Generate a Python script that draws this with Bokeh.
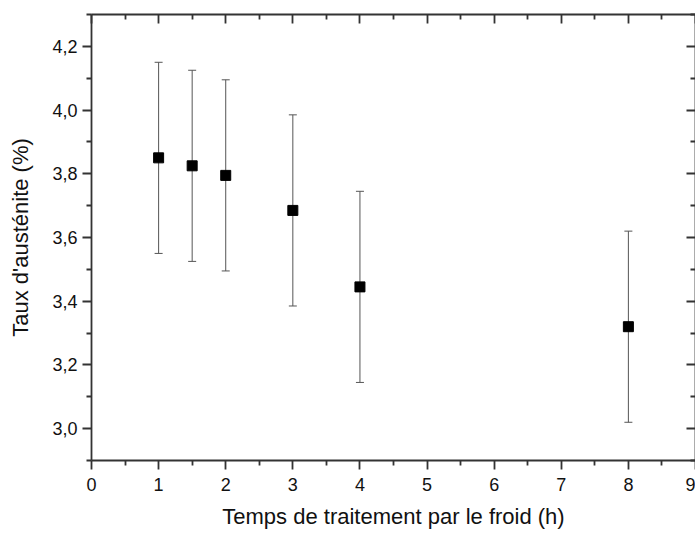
from bokeh.plotting import figure
from bokeh.models import ColumnDataSource, Whisker, LinearAxis, FixedTicker, Range1d, TeeHead
from bokeh.embed import file_html
from bokeh.resources import INLINE

# Data
time_h = [1, 1.5, 2, 3, 4, 8]
austenite = [3.85, 3.825, 3.795, 3.685, 3.445, 3.32]
error = [0.30, 0.30, 0.30, 0.30, 0.30, 0.30]

x_ticks = [0, 1, 2, 3, 4, 5, 6, 7, 8, 9]
x_minor = [0.5, 1.5, 2.5, 3.5, 4.5, 5.5, 6.5, 7.5, 8.5]
y_ticks = [3.0, 3.2, 3.4, 3.6, 3.8, 4.0, 4.2]
y_minor = [2.9, 3.1, 3.3, 3.5, 3.7, 3.9, 4.1, 4.3]
y_tick_labels = ["3,0", "3,2", "3,4", "3,6", "3,8", "4,0", "4,2"]

FONT = "Liberation Sans"
AXIS_COLOR = "#333333"

src = ColumnDataSource(dict(
    x=time_h,
    y=austenite,
    upper=[a + e for a, e in zip(austenite, error)],
    lower=[a - e for a, e in zip(austenite, error)],
))

p = figure(width=695, height=532,
           x_range=Range1d(0, 9), y_range=Range1d(2.9, 4.3),
           output_backend="svg", toolbar_location=None,
           x_axis_location=None, y_axis_location=None,
           min_border_left=91, min_border_top=14, min_border_bottom=72,
           min_border_right=0)
p.outline_line_color = None
p.grid.visible = False
p.background_fill_color = "white"
p.border_fill_color = "white"


def style_axis(ax, ticks, minor, labels=True, inside=False):
    ax.ticker = FixedTicker(ticks=ticks, minor_ticks=minor)
    ax.axis_line_color = AXIS_COLOR
    ax.axis_line_width = 1.8
    ax.major_tick_line_color = AXIS_COLOR
    ax.minor_tick_line_color = AXIS_COLOR
    ax.major_tick_line_width = 1.8
    ax.minor_tick_line_width = 1.8
    if inside:
        ax.major_tick_in = 9
        ax.major_tick_out = 0
        ax.minor_tick_in = 5
        ax.minor_tick_out = 0
    else:
        ax.major_tick_in = 0
        ax.major_tick_out = 9
        ax.minor_tick_in = 0
        ax.minor_tick_out = 5
    if labels:
        ax.major_label_text_font = FONT
        ax.major_label_text_font_size = "18px"
        ax.major_label_text_color = "#111111"
        ax.axis_label_text_font = FONT
        ax.axis_label_text_font_size = "22px"
        ax.axis_label_text_font_style = "normal"
        ax.axis_label_text_color = "#111111"
    else:
        ax.major_label_overrides = {t: "" for t in ticks}
        ax.major_label_text_font_size = "8px"
        ax.major_label_standoff = 0


xb = LinearAxis(axis_label="Temps de traitement par le froid (h)")
style_axis(xb, x_ticks, x_minor)
xb.major_label_standoff = 8
xb.axis_label_standoff = 10
p.add_layout(xb, "below")

yl = LinearAxis(axis_label="Taux d'austénite (%)")
style_axis(yl, y_ticks, y_minor)
yl.major_label_overrides = {t: l for t, l in zip(y_ticks, y_tick_labels)}
yl.major_label_standoff = 5
yl.axis_label_standoff = 16
p.add_layout(yl, "left")

xt = LinearAxis()
style_axis(xt, x_ticks, x_minor, labels=False, inside=True)
p.add_layout(xt, "above")

yr = LinearAxis()
style_axis(yr, y_ticks, y_minor, labels=False, inside=True)
p.add_layout(yr, "right")

w = Whisker(base="x", upper="upper", lower="lower", source=src,
            line_color="#555555", line_width=1,
            upper_head=TeeHead(size=8, line_color="#555555", line_width=1),
            lower_head=TeeHead(size=8, line_color="#555555", line_width=1))
p.add_layout(w)

p.scatter("x", "y", source=src, marker="square", size=10,
          fill_color="black", line_color="black")

open("out.html", "w").write(file_html(p, INLINE))
